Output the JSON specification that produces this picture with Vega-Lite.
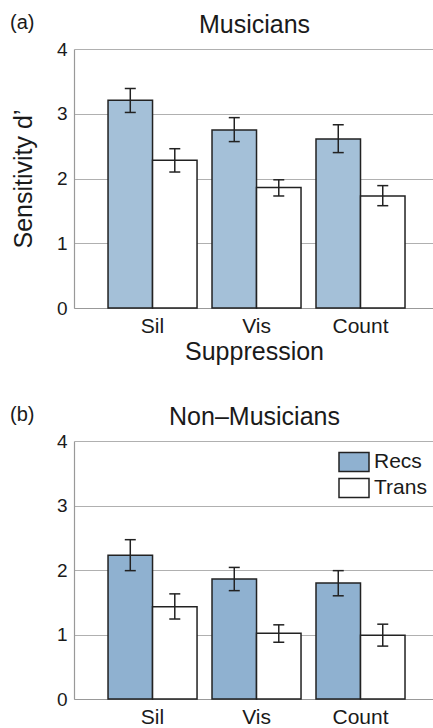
{
  "$schema": "https://vega.github.io/schema/vega-lite/v6.json",
  "background": "white",
  "padding": {"left": 10, "top": 12, "right": 0, "bottom": 0},
  "config": {
    "font": "Liberation Sans",
    "view": {"stroke": null},
    "axis": {
      "labelFont": "Liberation Sans",
      "titleFont": "Liberation Sans",
      "labelColor": "#1a1a1a",
      "titleColor": "#1a1a1a",
      "titleFontWeight": "normal",
      "domainColor": "#999999",
      "domainWidth": 1.2,
      "gridColor": "#b0b0b0",
      "gridWidth": 1,
      "ticks": false
    },
    "title": {"font": "Liberation Sans", "fontWeight": "normal", "fontSize": 20, "color": "#1a1a1a"},
    "legend": {"labelFont": "Liberation Sans"},
    "concat": {"spacing": 40}
  },
  "datasets": {
    "d": [
      {"panel": "Musicians", "supp": "Sil", "cond": "Recs", "d": 3.21, "lo": 3.02, "hi": 3.39},
      {"panel": "Musicians", "supp": "Sil", "cond": "Trans", "d": 2.28, "lo": 2.10, "hi": 2.46},
      {"panel": "Musicians", "supp": "Vis", "cond": "Recs", "d": 2.75, "lo": 2.57, "hi": 2.94},
      {"panel": "Musicians", "supp": "Vis", "cond": "Trans", "d": 1.86, "lo": 1.73, "hi": 1.98},
      {"panel": "Musicians", "supp": "Count", "cond": "Recs", "d": 2.61, "lo": 2.40, "hi": 2.83},
      {"panel": "Musicians", "supp": "Count", "cond": "Trans", "d": 1.73, "lo": 1.58, "hi": 1.89},
      {"panel": "Non", "supp": "Sil", "cond": "Recs", "d": 2.23, "lo": 1.99, "hi": 2.47},
      {"panel": "Non", "supp": "Sil", "cond": "Trans", "d": 1.43, "lo": 1.24, "hi": 1.63},
      {"panel": "Non", "supp": "Vis", "cond": "Recs", "d": 1.86, "lo": 1.68, "hi": 2.04},
      {"panel": "Non", "supp": "Vis", "cond": "Trans", "d": 1.02, "lo": 0.88, "hi": 1.15},
      {"panel": "Non", "supp": "Count", "cond": "Recs", "d": 1.80, "lo": 1.60, "hi": 1.99},
      {"panel": "Non", "supp": "Count", "cond": "Trans", "d": 0.99, "lo": 0.82, "hi": 1.16}
    ]
  },
  "resolve": {"scale": {"fill": "independent"}, "legend": {"fill": "independent"}},
  "vconcat": [
    {
      "width": 360,
      "height": 259,
      "title": {"text": "(a)", "anchor": "start", "frame": "group", "dx": -64, "offset": -21, "fontSize": 20},
      "data": {"name": "d"},
      "transform": [{"filter": "datum.panel === 'Musicians'"}],
      "resolve": {"axis": {"x": "independent"}},
      "layer": [
        {
          "mark": {"type": "bar", "stroke": "#222222", "strokeWidth": 1.5},
          "encoding": {
            "x": {"field": "supp", "type": "nominal", "sort": ["Sil", "Vis", "Count"],
              "scale": {"paddingInner": 0.144, "paddingOuter": 0.303, "align": 0.54},
              "axis": {"title": "Suppression", "labelAngle": 0, "labelFontSize": 21, "labelPadding": 7, "titleFontSize": 25, "titlePadding": 3}},
            "xOffset": {"field": "cond", "type": "nominal", "sort": ["Recs", "Trans"], "scale": {"paddingInner": 0, "paddingOuter": 0}},
            "y": {"field": "d", "type": "quantitative", "title": "Sensitivity d’", "scale": {"domain": [0, 4]},
              "axis": {"values": [0, 1, 2, 3, 4], "format": "d", "labelFontSize": 19, "labelPadding": 7, "titleFontSize": 25, "titlePadding": 20}},
            "fill": {"field": "cond", "type": "nominal", "scale": {"domain": ["Recs", "Trans"], "range": ["#a4c0d8", "#ffffff"]}, "legend": null}
          }
        },
        {
          "mark": {"type": "rule", "color": "#222222", "strokeWidth": 1.5},
          "encoding": {
            "x": {"field": "supp", "type": "nominal", "sort": ["Sil", "Vis", "Count"], "axis": null},
            "xOffset": {"field": "cond", "type": "nominal", "sort": ["Recs", "Trans"]},
            "y": {"field": "lo", "type": "quantitative", "title": "Sensitivity d’"},
            "y2": {"field": "hi"}
          }
        },
        {
          "mark": {"type": "tick", "orient": "horizontal", "color": "#222222", "thickness": 1.5, "size": 11, "opacity": 1},
          "encoding": {
            "x": {"field": "supp", "type": "nominal", "sort": ["Sil", "Vis", "Count"], "axis": null},
            "xOffset": {"field": "cond", "type": "nominal", "sort": ["Recs", "Trans"]},
            "y": {"field": "lo", "type": "quantitative", "title": "Sensitivity d’"}
          }
        },
        {
          "mark": {"type": "tick", "orient": "horizontal", "color": "#222222", "thickness": 1.5, "size": 11, "opacity": 1},
          "encoding": {
            "x": {"field": "supp", "type": "nominal", "sort": ["Sil", "Vis", "Count"],
              "axis": {"orient": "top", "title": "Musicians", "labels": false, "domain": false, "grid": false, "ticks": false, "titleFontSize": 25, "titlePadding": 12}},
            "xOffset": {"field": "cond", "type": "nominal", "sort": ["Recs", "Trans"]},
            "y": {"field": "hi", "type": "quantitative", "title": "Sensitivity d’"}
          }
        }
      ]
    },
    {
      "width": 360,
      "height": 258,
      "title": {"text": "(b)", "anchor": "start", "frame": "group", "dx": -64, "offset": -21, "fontSize": 20},
      "data": {"name": "d"},
      "transform": [{"filter": "datum.panel === 'Non'"}],
      "resolve": {"axis": {"x": "independent"}},
      "layer": [
        {
          "mark": {"type": "bar", "stroke": "#222222", "strokeWidth": 1.5},
          "encoding": {
            "x": {"field": "supp", "type": "nominal", "sort": ["Sil", "Vis", "Count"],
              "scale": {"paddingInner": 0.144, "paddingOuter": 0.303, "align": 0.54},
              "axis": {"title": null, "labelAngle": 0, "labelFontSize": 21, "labelPadding": 7}},
            "xOffset": {"field": "cond", "type": "nominal", "sort": ["Recs", "Trans"], "scale": {"paddingInner": 0, "paddingOuter": 0}},
            "y": {"field": "d", "type": "quantitative", "title": null, "scale": {"domain": [0, 4]},
              "axis": {"values": [0, 1, 2, 3, 4], "format": "d", "labelFontSize": 19, "labelPadding": 7}},
            "fill": {"field": "cond", "type": "nominal", "scale": {"domain": ["Recs", "Trans"], "range": ["#8fb1d0", "#ffffff"]},
              "legend": {"title": null, "orient": "none", "legendX": 269, "legendY": 10, "padding": 0,
                "symbolType": "M-1.5,-0.95H1.5V0.95H-1.5Z", "symbolSize": 400, "symbolStrokeColor": "#222222", "symbolStrokeWidth": 1.5,
                "labelFontSize": 21, "labelColor": "#1a1a1a", "labelOffset": 9, "rowPadding": 0}}
          }
        },
        {
          "mark": {"type": "rule", "color": "#222222", "strokeWidth": 1.5},
          "encoding": {
            "x": {"field": "supp", "type": "nominal", "sort": ["Sil", "Vis", "Count"], "axis": null},
            "xOffset": {"field": "cond", "type": "nominal", "sort": ["Recs", "Trans"]},
            "y": {"field": "lo", "type": "quantitative", "title": null},
            "y2": {"field": "hi"}
          }
        },
        {
          "mark": {"type": "tick", "orient": "horizontal", "color": "#222222", "thickness": 1.5, "size": 11, "opacity": 1},
          "encoding": {
            "x": {"field": "supp", "type": "nominal", "sort": ["Sil", "Vis", "Count"], "axis": null},
            "xOffset": {"field": "cond", "type": "nominal", "sort": ["Recs", "Trans"]},
            "y": {"field": "lo", "type": "quantitative", "title": null}
          }
        },
        {
          "mark": {"type": "tick", "orient": "horizontal", "color": "#222222", "thickness": 1.5, "size": 11, "opacity": 1},
          "encoding": {
            "x": {"field": "supp", "type": "nominal", "sort": ["Sil", "Vis", "Count"],
              "axis": {"orient": "top", "title": "Non–Musicians", "labels": false, "domain": false, "grid": false, "ticks": false, "titleFontSize": 25, "titlePadding": 12}},
            "xOffset": {"field": "cond", "type": "nominal", "sort": ["Recs", "Trans"]},
            "y": {"field": "hi", "type": "quantitative", "title": null}
          }
        }
      ]
    }
  ]
}
